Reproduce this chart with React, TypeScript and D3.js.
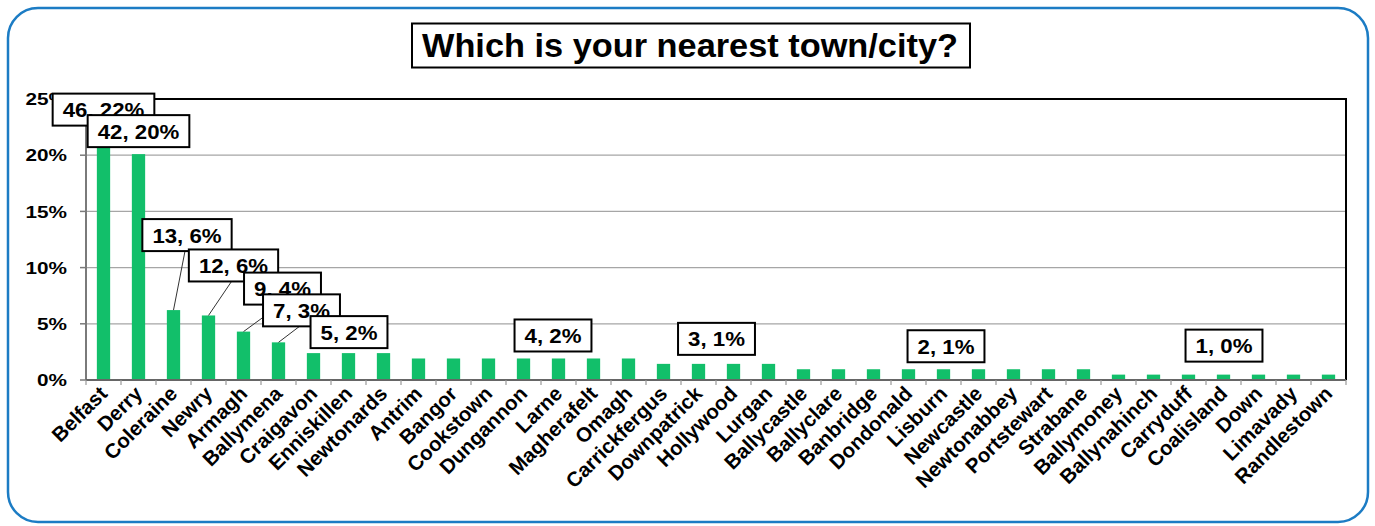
import React from "react";
import * as d3 from "d3";

const title = "Which is your nearest town/city?";

const categories = [
  "Belfast", "Derry", "Coleraine", "Newry", "Armagh", "Ballymena", "Craigavon",
  "Enniskillen", "Newtonards", "Antrim", "Bangor", "Cookstown", "Dungannon", "Larne",
  "Magherafelt", "Omagh", "Carrickfergus", "Downpatrick", "Hollywood", "Lurgan",
  "Ballycastle", "Ballyclare", "Banbridge", "Dondonald", "Lisburn", "Newcastle",
  "Newtonabbey", "Portstewart", "Strabane", "Ballymoney", "Ballynahinch", "Carryduff",
  "Coalisland", "Down", "Limavady", "Randlestown",
];

const counts = [
  46, 42, 13, 12, 9, 7, 5,
  5, 5, 4, 4, 4, 4, 4,
  4, 4, 3, 3, 3, 3,
  2, 2, 2, 2, 2, 2,
  2, 2, 2, 1, 1, 1,
  1, 1, 1, 1,
];

const yTicks = [0, 0.05, 0.1, 0.15, 0.2, 0.25];

// which bars carry a data label (by category name)
const labelledTowns = [
  "Belfast", "Derry", "Coleraine", "Newry", "Armagh", "Ballymena", "Craigavon",
  "Larne", "Hollywood", "Lisburn", "Coalisland",
];

// label placement tweaks (layout only): [dx, dy, leaderLine]
const labelLayout: Record<string, [number, number, boolean]> = {
  Belfast: [0, 0, false],
  Derry: [0, 0, false],
  Coleraine: [13.5, -52, true],
  Newry: [25, -27, true],
  Armagh: [39, -20, true],
  Ballymena: [23, -9, true],
  Craigavon: [35.5, 2, false],
  Larne: [-5.5, 0, false],
  Hollywood: [-17, -2, false],
  Lisburn: [2.5, 0, false],
  Coalisland: [0.5, -6, false],
};

const FONT = "'Liberation Sans', Arial, Helvetica, sans-serif";
const GREEN = "#12bf6a";

let measureCtx: CanvasRenderingContext2D | null = null;
function measure(text: string, font: string): number {
  if (!measureCtx) {
    const c = document.createElement("canvas");
    measureCtx = c.getContext("2d");
  }
  if (!measureCtx) return text.length * 11;
  measureCtx.font = font;
  return measureCtx.measureText(text).width;
}

export default function App() {
  const W = 1375;
  const H = 526;
  const plot = { left: 86, right: 1346, top: 99, bottom: 380 };
  const total = d3.sum(counts);
  const pct = counts.map((c) => c / total);

  const x = d3
    .scaleBand<string>()
    .domain(categories)
    .range([plot.left, plot.right])
    .paddingInner(0.62)
    .paddingOuter(0.31);
  const y = d3.scaleLinear().domain([0, 0.25]).range([plot.bottom, plot.top]);
  const fmt = d3.format(".0%");
  const step = (plot.right - plot.left) / categories.length;

  const labelFont = `bold 21px ${FONT}`;
  const labelStretch = 1.06;
  const boxH = 32;
  const labels = labelledTowns.map((town) => {
    const i = categories.indexOf(town);
    const cx = (x(town) as number) + x.bandwidth() / 2;
    const top = y(pct[i]);
    const text = `${counts[i]}, ${fmt(pct[i])}`;
    const tw = measure(text, labelFont) * labelStretch;
    const bw = tw + 20;
    const [dx, dy, leader] = labelLayout[town];
    const bcx = cx + dx;
    const bottom = top - 7 + dy;
    return { town, cx, top, text, bw, bcx, bottom, leader };
  });

  return (
    <svg
      width={W}
      height={H}
      style={{ position: "absolute", left: 0, top: 0, background: "#fff" }}
      fontFamily={FONT}
    >
      <rect x={0} y={0} width={W} height={H} fill="#fff" />
      {/* outer rounded frame */}
      <rect
        x={8}
        y={8}
        width={1360}
        height={514}
        rx={30}
        ry={30}
        fill="#fff"
        stroke="#1c7cc4"
        strokeWidth={2.5}
      />

      {/* title */}
      <rect x={412} y={23.5} width={558} height={44} fill="#fff" stroke="#000" strokeWidth={2} />
      <text
        x={422}
        y={57}
        fontSize={33}
        fontWeight="bold"
        textLength={536}
        lengthAdjust="spacingAndGlyphs"
        fill="#000"
      >
        {title}
      </text>

      {/* gridlines */}
      {yTicks
        .filter((t) => t > 0 && t < 0.25)
        .map((t) => (
          <line
            key={"g" + t}
            x1={plot.left}
            x2={plot.right}
            y1={y(t)}
            y2={y(t)}
            stroke="#a6a6a6"
            strokeWidth={1.2}
          />
        ))}

      {/* plot border top & right */}
      <line x1={plot.left} x2={plot.right + 1} y1={plot.top} y2={plot.top} stroke="#000" strokeWidth={2} />
      <line x1={plot.right} x2={plot.right} y1={plot.top} y2={plot.bottom} stroke="#000" strokeWidth={2} />

      {/* bars */}
      {categories.map((c, i) => (
        <rect
          key={c}
          x={x(c)}
          y={y(pct[i])}
          width={x.bandwidth()}
          height={plot.bottom - y(pct[i])}
          fill={GREEN}
        />
      ))}

      {/* y axis */}
      <line x1={plot.left} x2={plot.left} y1={plot.top} y2={plot.bottom} stroke="#7a7a7a" strokeWidth={2} />
      {yTicks.map((t) => (
        <g key={"yt" + t}>
          <line x1={plot.left - 6} x2={plot.left} y1={y(t)} y2={y(t)} stroke="#7a7a7a" strokeWidth={1.5} />
          <text
            transform={`translate(67,${y(t)}) scale(1.22,1)`}
            dy="0.36em"
            textAnchor="end"
            fontSize={17}
            fontWeight="bold"
            fill="#000"
          >
            {fmt(t)}
          </text>
        </g>
      ))}

      {/* x axis */}
      <line x1={plot.left} x2={plot.right} y1={plot.bottom} y2={plot.bottom} stroke="#666" strokeWidth={2} />
      {d3.range(categories.length + 1).map((k) => (
        <line
          key={"xt" + k}
          x1={plot.left + k * step}
          x2={plot.left + k * step}
          y1={plot.bottom}
          y2={plot.bottom + 5}
          stroke="#999"
          strokeWidth={1.2}
        />
      ))}
      {categories.map((c) => {
        const cx = (x(c) as number) + x.bandwidth() / 2;
        return (
          <text
            key={"xl" + c}
            transform={`translate(${cx + 5},${395}) rotate(-45)`}
            textAnchor="end"
            fontSize={20.5}
            fontWeight="bold"
            fill="#000"
          >
            {c}
          </text>
        );
      })}

      {/* leader lines */}
      {labels
        .filter((l) => l.leader)
        .map((l) => (
          <line
            key={"ll" + l.town}
            x1={l.bcx - 2}
            y1={l.bottom}
            x2={l.cx}
            y2={l.top}
            stroke="#333"
            strokeWidth={1}
          />
        ))}

      {/* data labels */}
      {labels.map((l) => (
        <g key={"lb" + l.town}>
          <rect
            x={l.bcx - l.bw / 2}
            y={l.bottom - boxH}
            width={l.bw}
            height={boxH}
            fill="#fff"
            stroke="#000"
            strokeWidth={2}
          />
          <text
            transform={`translate(${l.bcx},${l.bottom - boxH / 2}) scale(${labelStretch},1)`}
            dy="0.36em"
            textAnchor="middle"
            fontSize={21}
            fontWeight="bold"
            fill="#000"
          >
            {l.text}
          </text>
        </g>
      ))}
    </svg>
  );
}
